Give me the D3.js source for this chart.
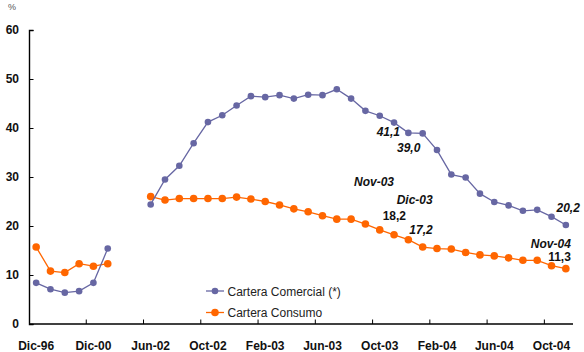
<!DOCTYPE html>
<html>
<head>
<meta charset="utf-8">
<script src="https://cdn.jsdelivr.net/npm/d3@7"></script>
<style>
  body { margin: 0; background: #fff; }
  svg { display: block; font-family: "Liberation Sans", Arial, sans-serif; }
</style>
</head>
<body>
<div id="chart"></div>
<script>
// categorias (6 anuales, 2 vacias, 30 mensuales)
const categories = ["Dic-96", "Dic-97", "Dic-98", "Dic-99", "Dic-00", "Dic-01", "", "",
  "Jun-02", "Jul-02", "Ago-02", "Sep-02", "Oct-02", "Nov-02", "Dic-02",
  "Ene-03", "Feb-03", "Mar-03", "Abr-03", "May-03", "Jun-03", "Jul-03", "Ago-03", "Sep-03", "Oct-03", "Nov-03", "Dic-03",
  "Ene-04", "Feb-04", "Mar-04", "Abr-04", "May-04", "Jun-04", "Jul-04", "Ago-04", "Sep-04", "Oct-04", "Nov-04"];

const comercial = [8.4, 7.1, 6.4, 6.7, 8.4, 15.4, null, null,
  24.4, 29.5, 32.3, 36.9, 41.2, 42.6, 44.6,
  46.5, 46.3, 46.7, 46.0, 46.8, 46.7, 47.9, 46.0, 43.5, 42.5, 41.1, 39.0,
  38.9, 35.5, 30.5, 29.9, 26.6, 24.9, 24.2, 23.1, 23.3, 21.9, 20.2];

const consumo = [15.7, 10.8, 10.5, 12.3, 11.8, 12.3, null, null,
  26.0, 25.3, 25.6, 25.6, 25.6, 25.6, 25.9,
  25.5, 25.0, 24.3, 23.5, 22.9, 22.1, 21.4, 21.4, 20.4, 19.2, 18.2, 17.2,
  15.7, 15.4, 15.3, 14.6, 14.1, 13.9, 13.5, 13.0, 13.0, 11.9, 11.3];

const yTicks = [0, 10, 20, 30, 40, 50, 60];
const seriesNames = ["Cartera Comercial (*)", "Cartera Consumo"];

const W = 584, H = 352;
const margin = {top: 30, right: 11, bottom: 28, left: 29};

const svg = d3.select("#chart").append("svg")
  .attr("width", W)
  .attr("height", H);

let x = d3.scaleBand()
  .domain(d3.range(categories.length))
  .range([margin.left, W - margin.right])
  .padding(0);

let y = d3.scaleLinear()
  .domain([0, 60])
  .range([H - margin.bottom, margin.top]);

const cx = i => x(i) + x.bandwidth() / 2;

// ejes
svg.append("text")
  .attr("x", 12).attr("y", 10)
  .attr("text-anchor", "middle")
  .attr("font-size", 9)
  .attr("fill", "#555")
  .text("%");

let yAxis = g => g
  .attr("transform", `translate(${margin.left},0)`)
  .call(d3.axisRight(y).tickValues(yTicks).tickSize(4.5).tickFormat(d => d))
  .call(g => g.selectAll(".tick text")
    .attr("x", -10).attr("text-anchor", "end")
    .attr("font-size", 12).attr("font-weight", "bold").attr("fill", "#111"));

svg.append("g").call(yAxis);

const tickIdx = d3.range(4, categories.length, 4);
const labelIdx = d3.range(0, categories.length, 4);

svg.append("g")
  .selectAll("line")
  .data(tickIdx)
  .join("line")
  .attr("x1", d => x(d)).attr("x2", d => x(d))
  .attr("y1", y(0)).attr("y2", y(0) - 4.5)
  .attr("stroke", "#000");

svg.append("g")
  .selectAll("text")
  .data(labelIdx)
  .join("text")
  .attr("x", d => cx(d))
  .attr("y", y(0) + 26)
  .attr("text-anchor", "middle")
  .attr("font-size", 12)
  .attr("font-weight", "bold")
  .attr("fill", "#111")
  .text(d => categories[d]);

svg.append("line")
  .attr("x1", margin.left).attr("x2", W - margin.right)
  .attr("y1", y(0)).attr("y2", y(0))
  .attr("stroke", "#000").attr("stroke-width", 1.4);

svg.select(".domain").attr("stroke-width", 1.4);

// series
const series = [
  {name: seriesNames[0], values: comercial, color: "#6767a3", r: 3.3},
  {name: seriesNames[1], values: consumo, color: "#ff6600", r: 3.8}
];

const line = d3.line()
  .defined(d => d != null)
  .x((d, i) => cx(i))
  .y(d => y(d));

series.slice().reverse().forEach(s => {
  svg.append("path")
    .datum(s.values)
    .attr("fill", "none")
    .attr("stroke", s.color)
    .attr("stroke-width", 1.3)
    .attr("d", line);

  svg.append("g")
    .attr("fill", s.color)
    .selectAll("circle")
    .data(s.values.map((v, i) => ({v, i})).filter(d => d.v != null))
    .join("circle")
    .attr("cx", d => cx(d.i))
    .attr("cy", d => y(d.v))
    .attr("r", s.r);
});

// rotulos
const fmt = v => d3.format(".1f")(v).replace(".", ",");
const notes = [
  {x: cx(25) + 6, y: y(comercial[25]) + 13, t: fmt(comercial[25]), it: true},
  {x: cx(26) + 12, y: y(comercial[26]) + 19, t: fmt(comercial[26]), it: true},
  {x: cx(25), y: 186, t: categories[25], it: true},
  {x: cx(27) + 10, y: 204, t: categories[26], it: true},
  {x: cx(25) + 12, y: y(consumo[25]) - 15, t: fmt(consumo[25]), it: false},
  {x: cx(27) + 10, y: y(consumo[26]) - 6, t: fmt(consumo[26]), it: true},
  {x: cx(37) + 14, y: y(comercial[37]) - 13, t: fmt(comercial[37]), it: true},
  {x: cx(37) + 5, y: 248, t: categories[37], it: true},
  {x: cx(37) + 5, y: y(consumo[37]) - 8, t: fmt(consumo[37]), it: false}
];

svg.append("g")
  .selectAll("text")
  .data(notes)
  .join("text")
  .attr("x", d => d.x)
  .attr("y", d => d.y)
  .attr("text-anchor", "end")
  .attr("font-size", 12)
  .attr("font-weight", "bold")
  .attr("font-style", d => d.it ? "italic" : "normal")
  .attr("fill", "#111")
  .text(d => d.t);

// leyenda
const legend = svg.append("g").attr("transform", "translate(206,291)");
series.forEach((s, k) => {
  const g = legend.append("g").attr("transform", `translate(0,${k * 21.5})`);
  g.append("line").attr("x1", 0).attr("x2", 18).attr("stroke", s.color).attr("stroke-width", 1.3);
  g.append("circle").attr("cx", 9).attr("r", s.r).attr("fill", s.color);
  g.append("text").attr("x", 21.5).attr("y", 4.5)
    .attr("font-size", 12).attr("fill", "#222").text(s.name);
});
</script>
</body>
</html>
